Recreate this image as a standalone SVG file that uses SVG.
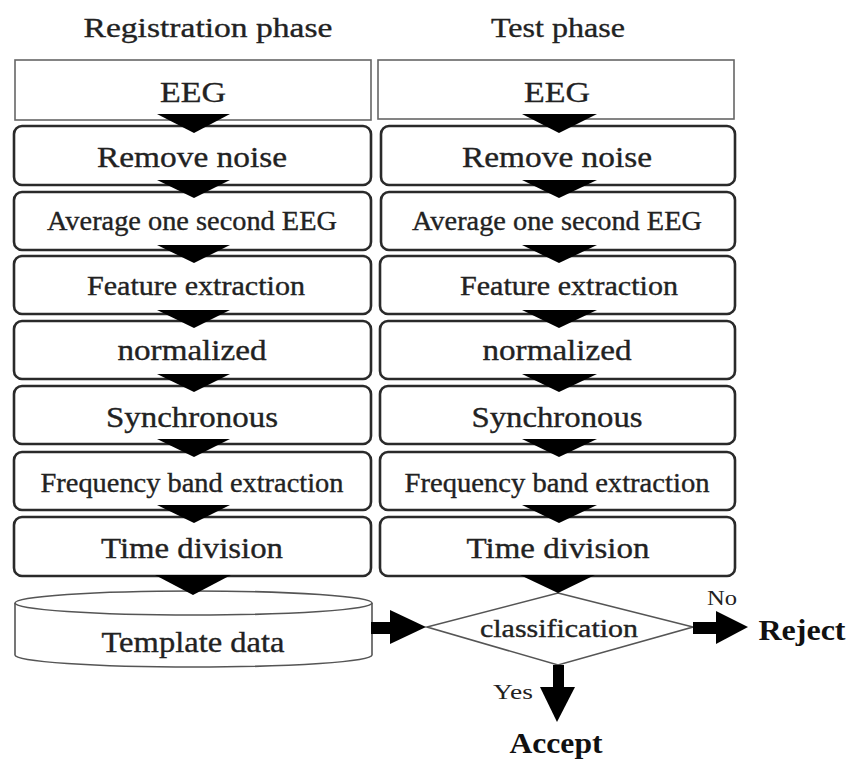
<svg xmlns="http://www.w3.org/2000/svg" width="849" height="765" viewBox="0 0 849 765">
<style>
text{font-family:"Liberation Serif","Times New Roman",Tinos,serif;fill:#222;stroke:#222;stroke-width:0.35;text-anchor:middle}
.title{font-size:28px}
.t30{font-size:30px}
.t27{font-size:27px}
.t25{font-size:25px}
.bold{font-weight:bold;fill:#111;stroke:none}
.small{font-size:21px;stroke:none}
.sq{fill:#fff;stroke:#666;stroke-width:1.6}
.rb{fill:#fff;stroke:#2a2a2a;stroke-width:2.6}
.thin{fill:#fff;stroke:#555;stroke-width:1.6}
.arr{fill:#000}
</style>
<rect width="849" height="765" fill="#fff"/>
<g id="titles">
<text class="title" x="208" y="37" textLength="249" lengthAdjust="spacingAndGlyphs">Registration phase</text>
<text class="title" x="558" y="37" textLength="134" lengthAdjust="spacingAndGlyphs">Test phase</text>
</g>
<g id="reg-eeg"><rect class="sq" x="15" y="60" width="356" height="60"/><text class="t30" x="193" y="102" textLength="66" lengthAdjust="spacingAndGlyphs">EEG</text></g>
<g id="reg-noise"><rect class="rb" x="14" y="126" width="357" height="59" rx="8"/><text class="t30" x="192" y="167" textLength="190" lengthAdjust="spacingAndGlyphs">Remove noise</text></g>
<g id="reg-avg"><rect class="rb" x="14" y="192" width="357" height="58" rx="8"/><text class="t27" x="192" y="230" textLength="290" lengthAdjust="spacingAndGlyphs">Average one second EEG</text></g>
<g id="reg-feat"><rect class="rb" x="14" y="256" width="357" height="58" rx="8"/><text class="t27" x="196" y="295" textLength="218" lengthAdjust="spacingAndGlyphs">Feature extraction</text></g>
<g id="reg-norm"><rect class="rb" x="14" y="321" width="357" height="58" rx="8"/><text class="t30" x="192" y="360" textLength="149" lengthAdjust="spacingAndGlyphs">normalized</text></g>
<g id="reg-sync"><rect class="rb" x="14" y="386" width="357" height="58" rx="8"/><text class="t30" x="192" y="427" textLength="172" lengthAdjust="spacingAndGlyphs">Synchronous</text></g>
<g id="reg-freq"><rect class="rb" x="14" y="452" width="357" height="58" rx="8"/><text class="t27" x="192" y="492" textLength="303" lengthAdjust="spacingAndGlyphs">Frequency band extraction</text></g>
<g id="reg-time"><rect class="rb" x="14" y="517" width="357" height="59" rx="8"/><text class="t30" x="192" y="558" textLength="182" lengthAdjust="spacingAndGlyphs">Time division</text></g>
<g id="template">
<path class="thin" d="M15,603 L15,655 A178.5,12 0 0 0 372,655 L372,603"/>
<ellipse class="thin" cx="193.5" cy="603" rx="178.5" ry="12"/>
<text class="t30" x="193" y="652" textLength="183" lengthAdjust="spacingAndGlyphs">Template data</text>
</g>
<g id="test-eeg"><rect class="sq" x="378" y="60" width="356" height="59"/><text class="t30" x="557" y="102" textLength="66" lengthAdjust="spacingAndGlyphs">EEG</text></g>
<g id="test-noise"><rect class="rb" x="381" y="126" width="354" height="59" rx="8"/><text class="t30" x="557" y="167" textLength="190" lengthAdjust="spacingAndGlyphs">Remove noise</text></g>
<g id="test-avg"><rect class="rb" x="381" y="192" width="354" height="58" rx="8"/><text class="t27" x="557" y="230" textLength="290" lengthAdjust="spacingAndGlyphs">Average one second EEG</text></g>
<g id="test-feat"><rect class="rb" x="380" y="256" width="355" height="58" rx="8"/><text class="t27" x="569" y="295" textLength="218" lengthAdjust="spacingAndGlyphs">Feature extraction</text></g>
<g id="test-norm"><rect class="rb" x="380" y="321" width="355" height="58" rx="8"/><text class="t30" x="557" y="360" textLength="149" lengthAdjust="spacingAndGlyphs">normalized</text></g>
<g id="test-sync"><rect class="rb" x="380" y="386" width="355" height="58" rx="8"/><text class="t30" x="557" y="427" textLength="171" lengthAdjust="spacingAndGlyphs">Synchronous</text></g>
<g id="test-freq"><rect class="rb" x="380" y="452" width="355" height="58" rx="8"/><text class="t27" x="557" y="492" textLength="305" lengthAdjust="spacingAndGlyphs">Frequency band extraction</text></g>
<g id="test-time"><rect class="rb" x="380" y="517" width="355" height="59" rx="8"/><text class="t30" x="558" y="558" textLength="183" lengthAdjust="spacingAndGlyphs">Time division</text></g>
<g id="classification">
<polygon class="thin" points="558,593 693,627 558,665 427,627"/>
<text class="t25" x="559" y="637" textLength="158" lengthAdjust="spacingAndGlyphs">classification</text>
</g>
<g id="reject"><text class="t30 bold" x="802" y="640" textLength="87" lengthAdjust="spacingAndGlyphs">Reject</text></g>
<g id="accept"><text class="t30 bold" x="556" y="753" textLength="93" lengthAdjust="spacingAndGlyphs">Accept</text></g>
<g id="connectors">
<polygon class="arr" points="157,114 230,114 194,133"/>
<polygon class="arr" points="157,180 230,180 194,198"/>
<polygon class="arr" points="157,245 230,245 194,263"/>
<polygon class="arr" points="157,310 230,310 194,328"/>
<polygon class="arr" points="157,374 230,374 194,392"/>
<polygon class="arr" points="157,439 230,439 194,457"/>
<polygon class="arr" points="157,505 230,505 194,523"/>
<polygon class="arr" points="155,575 231,575 193,595"/>
<polygon class="arr" points="522,114 597,114 559,133"/>
<polygon class="arr" points="522,180 597,180 559,198"/>
<polygon class="arr" points="522,245 597,245 559,263"/>
<polygon class="arr" points="522,310 597,310 559,328"/>
<polygon class="arr" points="522,374 597,374 559,392"/>
<polygon class="arr" points="522,439 597,439 559,457"/>
<polygon class="arr" points="522,505 597,505 559,523"/>
<polygon class="arr" points="520,575 595,575 558,593"/>
<rect class="arr" x="371" y="622" width="21" height="12"/>
<polygon class="arr" points="390,610 426,627 390,644"/>
<rect class="arr" x="693" y="622" width="25" height="12"/>
<polygon class="arr" points="716,611 748,627 716,644"/>
<rect class="arr" x="553" y="665" width="11" height="24"/>
<polygon class="arr" points="540,687 575,687 557,722"/>
<text class="small" x="722" y="605" textLength="30" lengthAdjust="spacingAndGlyphs">No</text>
<text class="small" x="513" y="699" textLength="40" lengthAdjust="spacingAndGlyphs">Yes</text>
</g>
</svg>
